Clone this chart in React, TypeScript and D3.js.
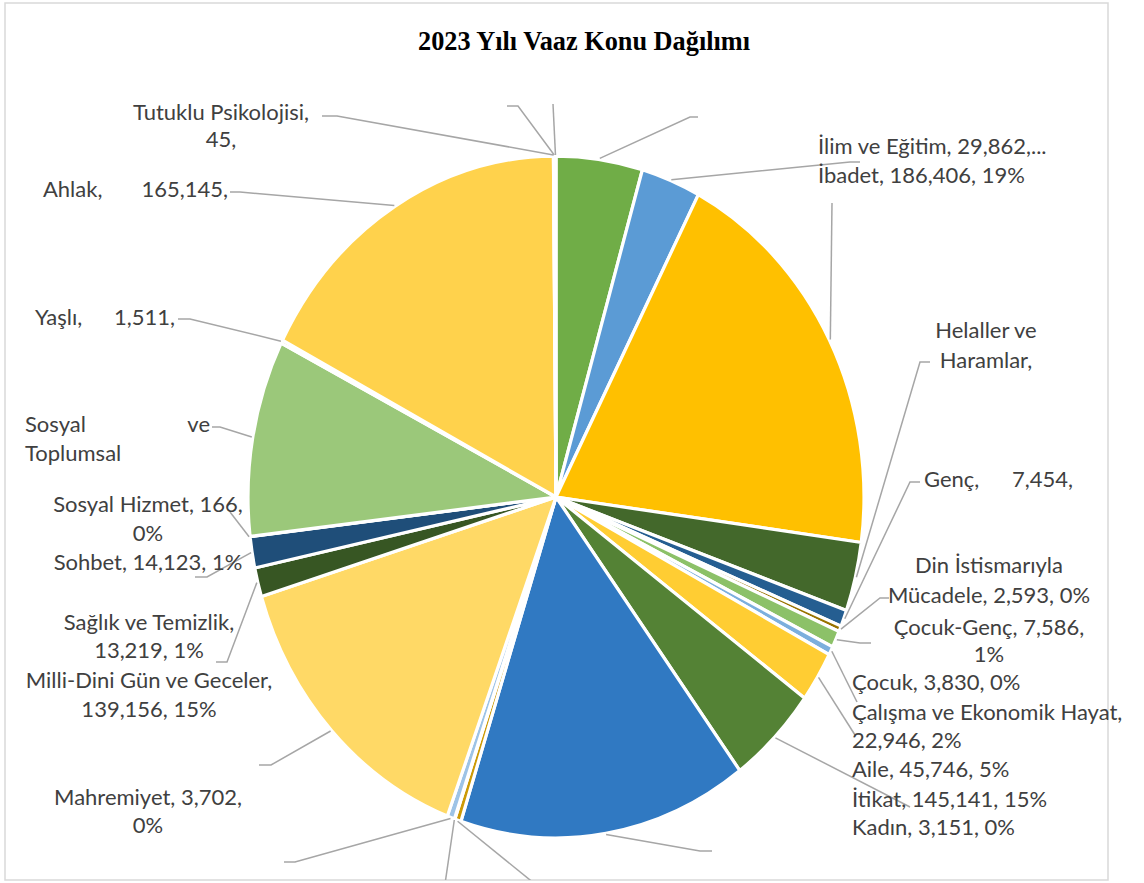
import React from "react";
import * as d3 from "d3";

// ---- data (clockwise from 12 o'clock) ----
const categories: string[] = [
  "Diğer (etiketsiz 1)",
  "İlim ve Eğitim",
  "İbadet",
  "Helaller ve Haramlar",
  "Genç",
  "Din İstismarıyla Mücadele",
  "Çocuk-Genç",
  "Çocuk",
  "Çalışma ve Ekonomik Hayat",
  "Aile",
  "İtikat",
  "Kadın",
  "Diğer (etiketsiz 2)",
  "Mahremiyet",
  "Milli-Dini Gün ve Geceler",
  "Sağlık ve Temizlik",
  "Sohbet",
  "Sosyal Hizmet",
  "Sosyal ve Toplumsal",
  "Yaşlı",
  "Ahlak",
  "Tutuklu Psikolojisi",
  "Diğer (etiketsiz 3)",
  "Diğer (etiketsiz 4)",
];
const values: number[] = [
  43300, 29862, 186406, 31300, 7454, 2593, 7586, 3830, 22946, 45746, 145141, 3151,
  280, 3702, 139156, 13219, 14123, 166, 88900, 1511, 165145, 45, 700, 520,
];
const colors: string[] = [
  "#70AD47", "#5B9BD5", "#FFC000", "#43682B", "#255E91", "#997300", "#8CC168",
  "#7CAFDD", "#FFCD33", "#548235", "#3079C2", "#CC9A06", "#A5A5A5", "#9DC3E6",
  "#FFD966", "#375623", "#1F4E79", "#7F7F7F", "#9BC87A", "#BF9000", "#FFD24C",
  "#A5A5A5", "#5B9BD5", "#70AD47",
];
const title = "2023 Yılı Vaaz Konu Dağılımı";

// ---- layout ----
const W = 1144, H = 883;
const CX = 556, CY = 497, R = 308, KY = 1.107;
const FONT = "Lato, 'Open Sans', sans-serif";
const FS = 22;
const TKY = 0.98;
const TXT = "#404040";
const LINE = "#A6A6A6";

type Line = string | [string, string];
type Spec = {
  x: number; x2?: number; ys: number[]; anchor: "start" | "middle" | "end";
  text?: (n: string, v: string, p: string) => Line[];
  path: [number, number][];
};

const labelLayout: Record<string, Spec> = {
  "Diğer (etiketsiz 1)": { x: 0, ys: [], anchor: "start", path: [[690, 117], [698, 117]] },
  "İlim ve Eğitim": { x: 818, ys: [154], anchor: "start", text: (n, v) => [`${n}, ${v},...`], path: [[850, 162], [860, 162]] },
  "İbadet": { x: 818, ys: [183], anchor: "start", text: (n, v, p) => [`${n}, ${v}, ${p}`], path: [[832, 203]] },
  "Helaller ve Haramlar": { x: 986, ys: [338, 368], anchor: "middle", text: () => ["Helaller ve", "Haramlar,"], path: [[920, 362], [930, 362]] },
  "Genç": { x: 924, x2: 1073, ys: [487], anchor: "start", text: (n, v) => [[`${n},`, `${v},`]], path: [[910, 482], [920, 482]] },
  "Din İstismarıyla Mücadele": { x: 989, ys: [573, 603], anchor: "middle", text: (n, v, p) => ["Din İstismarıyla", `Mücadele, ${v}, ${p}`], path: [[880, 598], [889, 598]] },
  "Çocuk-Genç": { x: 989, ys: [635, 662], anchor: "middle", text: (n, v, p) => [`${n}, ${v},`, p], path: [[860, 643], [871, 643]] },
  "Çocuk": { x: 852, ys: [690], anchor: "start", text: (n, v, p) => [`${n}, ${v}, ${p}`], path: [[857, 702]] },
  "Çalışma ve Ekonomik Hayat": { x: 852, ys: [720, 748], anchor: "start", text: (n, v, p) => [`${n},`, `${v}, ${p}`], path: [[855, 735]] },
  "Aile": { x: 852, ys: [777], anchor: "start", text: (n, v, p) => [`${n}, ${v}, ${p}`], path: [[910, 807]] },
  "İtikat": { x: 852, ys: [807], anchor: "start", text: (n, v, p) => [`${n}, ${v}, ${p}`], path: [[700, 851], [712, 851]] },
  "Kadın": { x: 852, ys: [835], anchor: "start", text: (n, v, p) => [`${n}, ${v}, ${p}`], path: [[535, 884]] },
  "Diğer (etiketsiz 2)": { x: 0, ys: [], anchor: "start", path: [[445, 884]] },
  "Mahremiyet": { x: 148, ys: [805, 833], anchor: "middle", text: (n, v, p) => [`${n}, ${v},`, p], path: [[295, 862], [284, 862]] },
  "Milli-Dini Gün ve Geceler": { x: 149, ys: [688, 717], anchor: "middle", text: (n, v, p) => [`${n},`, `${v}, ${p}`], path: [[271, 765], [259, 765]] },
  "Sağlık ve Temizlik": { x: 149, ys: [630, 658], anchor: "middle", text: (n, v, p) => [`${n},`, `${v}, ${p}`], path: [[227, 662], [216, 662]] },
  "Sohbet": { x: 148, ys: [570], anchor: "middle", text: (n, v, p) => [`${n}, ${v}, ${p}`], path: [[207, 577], [195, 577]] },
  "Sosyal Hizmet": { x: 148, ys: [512, 541], anchor: "middle", text: (n, v, p) => [`${n}, ${v},`, p], path: [[230, 512]] },
  "Sosyal ve Toplumsal": { x: 25, x2: 210, ys: [432, 461], anchor: "start", text: () => [["Sosyal", "ve"], "Toplumsal"], path: [[220, 427], [212, 427]] },
  "Yaşlı": { x: 35, x2: 175, ys: [325], anchor: "start", text: (n, v) => [[`${n},`, `${v},`]], path: [[190, 319], [178, 319]] },
  "Ahlak": { x: 43, x2: 228, ys: [197], anchor: "start", text: (n, v) => [[`${n},`, `${v},`]], path: [[240, 192], [230, 192]] },
  "Tutuklu Psikolojisi": { x: 221, ys: [120, 147], anchor: "middle", text: (n, v) => [`${n},`, `${v},`], path: [[337, 116], [322, 116]] },
  "Diğer (etiketsiz 3)": { x: 0, ys: [], anchor: "start", path: [[518, 106], [507, 106]] },
  "Diğer (etiketsiz 4)": { x: 0, ys: [], anchor: "start", path: [[553, 104]] },
};

export default function App() {
  const total = d3.sum(values);
  const data = categories.map((c, i) => ({ name: c, value: values[i], color: colors[i] }));
  const pie = d3.pie<any>().value((d) => d.value).sort(null).startAngle(0).endAngle(2 * Math.PI);
  const arcs = pie(data);
  const arcGen = d3.arc<any>().innerRadius(0).outerRadius(R);
  const fmt = d3.format(",");

  const edge = (a: number, r: number): [number, number] => [CX + r * Math.sin(a), CY - r * Math.cos(a) * KY];

  return (
    <svg width={W} height={H} style={{ position: "absolute", left: 0, top: 0, display: "block", background: "#fff" }}>
      <defs>
        <clipPath id="plotClip">
          <rect x={5} y={3} width={1103} height={877} />
        </clipPath>
      </defs>
      <rect x={0} y={0} width={W} height={H} fill="#fff" />
      <rect x={5} y={3} width={1103} height={877} fill="#fff" stroke="#D9D9D9" strokeWidth={1.5} />
      <g transform={`translate(584,50) scale(1,${KY * 1.15})`}>
        <text x={0} y={0} textAnchor="middle" fontFamily="'Liberation Serif', 'Times New Roman', serif" fontWeight="bold" fontSize={22}
          textLength={332} lengthAdjust="spacingAndGlyphs" fill="#000">{title}</text>
      </g>
      <g transform={`translate(${CX},${CY}) scale(1,${KY})`}>
        {arcs.map((a, i) => (
          <path key={i} d={arcGen(a) as string} fill={a.data.color} stroke="#fff" strokeWidth={3.2} vectorEffect="non-scaling-stroke" strokeLinejoin="round" />
        ))}
      </g>
      <g clipPath="url(#plotClip)" fill="none" stroke={LINE} strokeWidth={1.5}>
        {arcs.map((a, i) => {
          const spec = labelLayout[a.data.name];
          if (!spec) return null;
          const mid = (a.startAngle + a.endAngle) / 2;
          const pts = [edge(mid, R + 1), ...spec.path];
          return <path key={i} d={d3.line()(pts) as string} />;
        })}
      </g>
      <g fontFamily={FONT} fontSize={FS} fill={TXT}>
        {arcs.map((a, i) => {
          const spec = labelLayout[a.data.name];
          if (!spec || !spec.text) return null;
          const pct = Math.round((a.data.value / total) * 100) + "%";
          const lines = spec.text(a.data.name, fmt(a.data.value), pct);
          return (
            <g key={i}>
              {lines.map((ln, j) => {
                const y = spec.ys[j];
                if (Array.isArray(ln)) {
                  return (
                    <g key={j}>
                      <g transform={`translate(${spec.x},${y}) scale(1,${TKY})`}><text textAnchor="start">{ln[0]}</text></g>
                      <g transform={`translate(${spec.x2},${y}) scale(1,${TKY})`}><text textAnchor="end">{ln[1]}</text></g>
                    </g>
                  );
                }
                return (
                  <g key={j} transform={`translate(${spec.x},${y}) scale(1,${TKY})`}>
                    <text textAnchor={spec.anchor}>{ln}</text>
                  </g>
                );
              })}
            </g>
          );
        })}
      </g>
    </svg>
  );
}
